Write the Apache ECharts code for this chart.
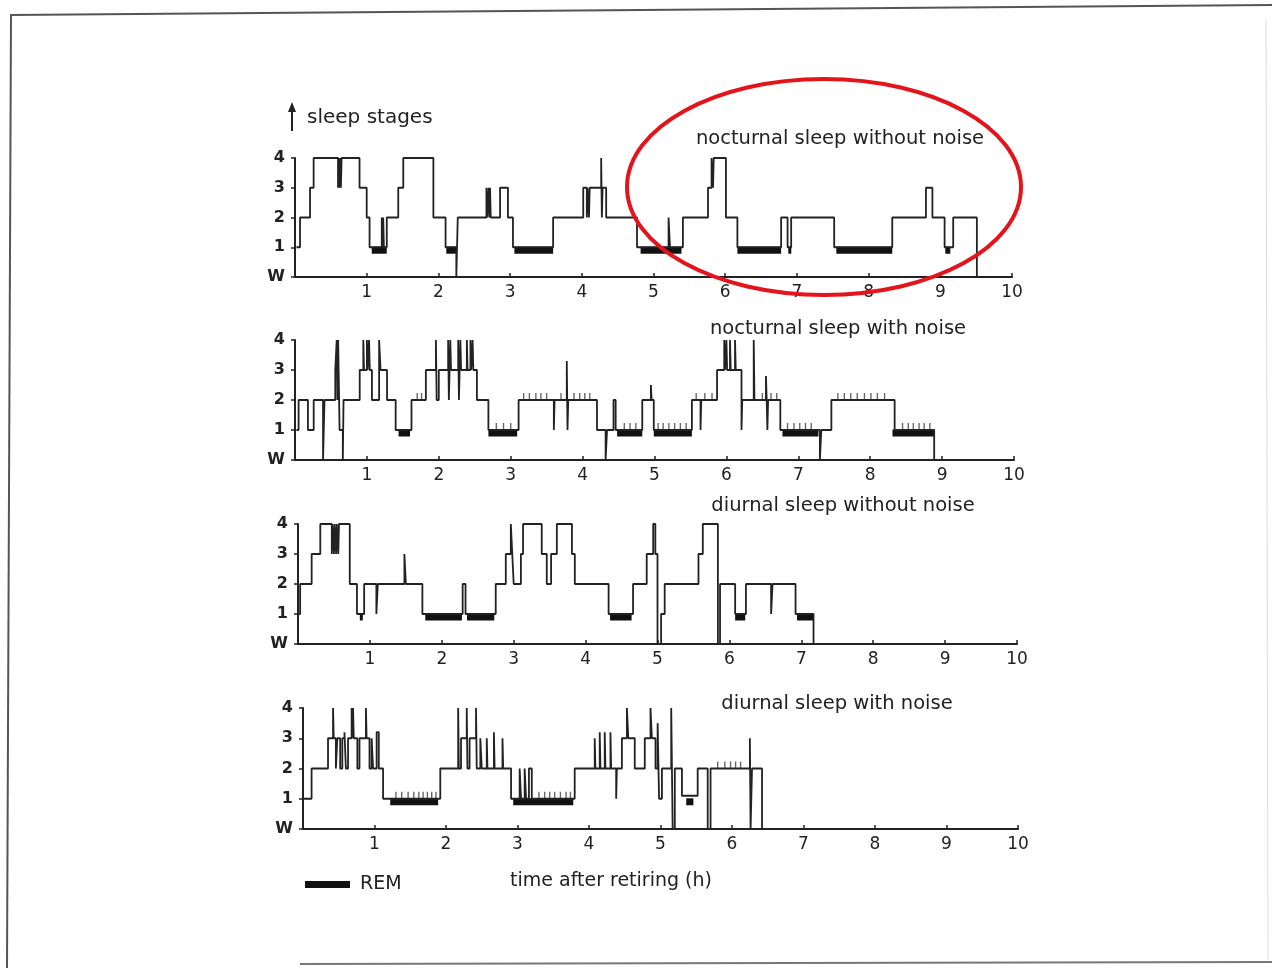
<!DOCTYPE html>
<html>
<head>
<meta charset="utf-8">
<script src="https://cdn.jsdelivr.net/npm/echarts@6/dist/echarts.min.js"></script>
<style>
html,body{margin:0;padding:0;background:#fff;}
#c{width:1272px;height:968px;}
</style>
</head>
<body>
<div id="c"></div>
<script>
// ---- data: [hours after retiring, sleep stage] (0 = W); each point starts a new stage ----
const nocturnalQuiet = [[0.02,1],[0.07,2],[0.21,3],[0.26,4],[0.60,3],[0.61,4],[0.62,3],[0.63,4],[0.64,3],[0.65,4],[0.90,3],[1.00,2],[1.04,1],[1.21,2],[1.22,1],[1.23,2],[1.24,1],[1.28,2],[1.44,3],[1.51,4],[1.93,2],[2.10,1],[2.25,0],[2.27,2],[2.67,3],[2.68,2],[2.70,3],[2.71,2],[2.72,3],[2.73,2],[2.86,3],[2.97,2],[3.04,1],[3.60,2],[4.02,3],[4.07,2],[4.08,3],[4.10,2],[4.11,3],[4.27,4],[4.28,2],[4.29,3],[4.34,2],[4.77,1],[5.21,2],[5.23,1],[5.41,2],[5.76,3],[5.81,4],[5.83,3],[5.84,4],[6.01,2],[6.17,1],[6.78,2],[6.87,1],[6.92,2],[7.52,1],[8.33,2],[8.80,3],[8.89,2],[9.06,1],[9.18,2],[9.51,0]];
const nocturnalNoise = [[0.02,1],[0.05,2],[0.18,1],[0.26,2],[0.39,0],[0.41,2],[0.56,3],[0.58,4],[0.59,2],[0.60,4],[0.62,1],[0.665,0],[0.675,2],[0.90,3],[0.95,4],[0.96,3],[1.00,4],[1.01,3],[1.03,4],[1.04,3],[1.07,2],[1.17,4],[1.19,3],[1.28,2],[1.40,1],[1.62,2],[1.82,3],[1.96,4],[1.97,2],[2.00,3],[2.13,4],[2.14,2],[2.16,4],[2.17,3],[2.27,4],[2.28,2],[2.30,4],[2.31,3],[2.39,4],[2.40,3],[2.44,4],[2.45,3],[2.47,4],[2.48,3],[2.53,2],[2.69,1],[3.11,2],[3.60,1],[3.61,2],[3.78,3.3],[3.79,1],[3.80,2],[4.20,1],[4.32,0],[4.34,1],[4.43,2],[4.46,1],[4.83,2],[4.95,2.5],[4.96,2],[4.99,1],[5.52,2],[5.64,1],[5.65,2],[5.87,3],[5.97,4],[5.98,3],[6.00,4],[6.01,3],[6.05,4],[6.06,3],[6.12,4],[6.13,3],[6.21,1],[6.22,2],[6.38,4],[6.39,2],[6.55,2.8],[6.56,2],[6.57,1],[6.58,2],[6.75,1],[7.30,0],[7.32,1],[7.46,2],[8.34,1],[8.89,0]];
const diurnalQuiet = [[0.0,1],[0.03,2],[0.19,3],[0.31,4],[0.47,3],[0.48,4],[0.50,3],[0.51,4],[0.53,3],[0.54,4],[0.56,3],[0.57,4],[0.72,2],[0.82,1],[0.92,2],[1.09,1],[1.11,2],[1.48,3],[1.50,2],[1.73,1],[2.29,2],[2.33,1],[2.75,2],[2.89,3],[2.96,4],[2.98,3],[3.00,2],[3.10,3],[3.13,4],[3.39,3],[3.46,2],[3.52,3],[3.60,4],[3.81,3],[3.85,2],[4.32,1],[4.66,2],[4.85,3],[4.94,4],[4.97,3],[5.00,0],[5.05,1],[5.10,2],[5.57,3],[5.63,4],[5.84,0],[5.87,2],[6.08,1],[6.23,2],[6.58,1],[6.60,2],[6.92,1],[7.17,0]];
const diurnalNoise = [[0.0,1],[0.12,2],[0.35,3],[0.42,4],[0.43,3],[0.46,2],[0.48,3],[0.52,2],[0.55,3],[0.58,3.2],[0.60,2],[0.63,3],[0.68,4],[0.69,3],[0.70,4],[0.71,3],[0.76,2],[0.79,3],[0.88,4],[0.89,3],[0.93,2],[0.96,3],[0.98,2],[1.03,3.2],[1.06,2],[1.12,1],[1.92,2],[2.17,4],[2.18,2],[2.21,3],[2.29,4],[2.30,2],[2.33,3],[2.42,4],[2.43,2],[2.48,3],[2.50,2],[2.57,3],[2.58,2],[2.67,3.2],[2.68,2],[2.79,3],[2.80,2],[2.91,1],[3.03,2],[3.05,1],[3.10,2],[3.12,1],[3.16,2],[3.20,1],[3.80,2],[4.08,3],[4.09,2],[4.15,3.2],[4.16,2],[4.22,3.2],[4.23,2],[4.30,3.2],[4.31,2],[4.38,1],[4.39,2],[4.46,3],[4.53,4],[4.55,3],[4.64,2],[4.78,3],[4.86,4],[4.88,3],[4.93,2],[4.96,3.5],[4.98,1],[5.02,2],[5.15,4],[5.17,0],[5.20,2],[5.30,1.1],[5.52,2],[5.66,0],[5.70,2],[6.25,3],[6.26,0],[6.28,2],[6.42,0]];

// REM periods [start h, end h]
const remNocturnalQuiet = [[1.07,1.28],[2.11,2.25],[3.06,3.60],[4.82,5.39],[6.17,6.78],[6.88,6.91],[7.55,8.33],[9.07,9.14]];
const remNocturnalNoise = [[1.44,1.60],[2.69,3.09],[4.48,4.83],[4.99,5.52],[6.78,7.28],[8.31,8.89]];
const remDiurnalQuiet = [[0.86,0.90],[1.77,2.28],[2.35,2.73],[4.34,4.64],[6.08,6.22],[6.94,7.17]];
const remDiurnalNoise = [[1.22,1.89],[2.94,3.78],[5.36,5.46]];

// short noise-event marks [h, stage]
const ticksNocturnalNoise = [[1.70,2],[1.76,2],[3.18,2],[3.26,2],[3.35,2],[3.42,2],[3.50,2],[3.70,2],[3.88,2],[3.96,2],[4.03,2],[4.10,2],[2.80,1],[2.90,1],[3.00,1],[4.58,1],[4.66,1],[4.74,1],[5.05,1],[5.12,1],[5.20,1],[5.28,1],[5.36,1],[5.44,1],[5.58,2],[5.70,2],[5.80,2],[6.50,2],[6.62,2],[6.70,2],[6.85,1],[6.94,1],[7.02,1],[7.10,1],[7.18,1],[7.55,2],[7.64,2],[7.73,2],[7.82,2],[7.92,2],[8.01,2],[8.10,2],[8.20,2],[8.45,1],[8.53,1],[8.60,1],[8.68,1],[8.75,1],[8.83,1]];
const ticksDiurnalNoise = [[1.30,1],[1.38,1],[1.47,1],[1.55,1],[1.62,1],[1.68,1],[1.74,1],[1.80,1],[1.86,1],[3.30,1],[3.38,1],[3.45,1],[3.52,1],[3.60,1],[3.68,1],[3.74,1],[5.80,2],[5.90,2],[5.98,2],[6.05,2],[6.12,2]];

const panelTitles = ['nocturnal sleep without noise','nocturnal sleep with noise','diurnal sleep without noise','diurnal sleep with noise'];
const stageLabels = ['W','1','2','3','4'];
const REM_LEVEL = 0.9;

// ---- layout ----
const panels = [
  {hyp: nocturnalQuiet, rem: remNocturnalQuiet, ticks: [], grid:{left:295, top:158, width:717, height:119}, title:[840,139]},
  {hyp: nocturnalNoise, rem: remNocturnalNoise, ticks: ticksNocturnalNoise, grid:{left:295, top:340, width:719, height:120}, title:[838,329]},
  {hyp: diurnalQuiet, rem: remDiurnalQuiet, ticks: [], grid:{left:298, top:524, width:719, height:120}, title:[843,506]},
  {hyp: diurnalNoise, rem: remDiurnalNoise, ticks: ticksDiurnalNoise, grid:{left:303, top:708, width:715, height:121}, title:[837,704]}
];

const INK = '#222';
const FONT = 'DejaVu Sans';

const grids = [], xAxes = [], yAxes = [], series = [], graphics = [];
panels.forEach((p, i) => {
  grids.push(Object.assign({containLabel:false}, p.grid));
  xAxes.push({
    type:'value', gridIndex:i, min:0, max:10, interval:1,
    axisLine:{show:true, onZero:false, lineStyle:{color:INK, width:2}},
    axisTick:{show:true, inside:true, length:4, lineStyle:{color:INK, width:1.5}},
    axisLabel:{show:true, showMinLabel:false, color:INK, fontFamily:FONT, fontSize:17, margin:7},
    splitLine:{show:false}
  });
  yAxes.push({
    type:'value', gridIndex:i, min:0, max:4, interval:1,
    axisLine:{show:true, lineStyle:{color:INK, width:2}},
    axisTick:{show:true, length:4, lineStyle:{color:INK, width:1.5}},
    axisLabel:{color:INK, fontFamily:FONT, fontSize:16, fontWeight:'bold', margin:10,
      formatter: v => stageLabels[v]},
    splitLine:{show:false}
  });
  series.push({
    type:'line', xAxisIndex:i, yAxisIndex:i, step:'end', data:p.hyp,
    symbol:'none', animation:false, silent:true,
    lineStyle:{color:INK, width:1.8}
  });
  series.push({
    type:'custom', xAxisIndex:i, yAxisIndex:i, data:p.rem, animation:false, silent:true,
    encode:{x:[0,1]},
    renderItem:(params, api) => {
      const a = api.coord([api.value(0), REM_LEVEL]);
      const b = api.coord([api.value(1), REM_LEVEL]);
      return {type:'rect', shape:{x:a[0], y:a[1]-3.5, width:Math.max(b[0]-a[0],3), height:7}, style:{fill:'#111'}};
    }
  });
  if (p.ticks.length) {
    series.push({
      type:'scatter', xAxisIndex:i, yAxisIndex:i, data:p.ticks, animation:false, silent:true,
      symbol:'rect', symbolSize:[1.4,7], symbolOffset:[0,-3.5],
      itemStyle:{color:'#444'}
    });
  }
  graphics.push({type:'text', x:p.title[0], y:p.title[1], silent:true,
    style:{text:panelTitles[i], fill:INK, font:'19.5px "DejaVu Sans"', textAlign:'center', textVerticalAlign:'middle'}});
});

// annotations: frame, axis caption, legend, red ellipse
graphics.push(
  {type:'line', shape:{x1:10, y1:15, x2:1272, y2:5}, style:{stroke:'#555', lineWidth:2}},
  {type:'line', shape:{x1:11, y1:15, x2:7, y2:968}, style:{stroke:'#555', lineWidth:2}},
  {type:'line', shape:{x1:300, y1:964, x2:1272, y2:962}, style:{stroke:'#777', lineWidth:2}},
  {type:'line', shape:{x1:1266, y1:20, x2:1268, y2:960}, style:{stroke:'#ddd', lineWidth:1}},
  {type:'line', shape:{x1:292, y1:131, x2:292, y2:108}, style:{stroke:INK, lineWidth:2}},
  {type:'polygon', shape:{points:[[288,112],[292,102],[296,112]]}, style:{fill:INK}},
  {type:'text', x:307, y:118, style:{text:'sleep stages', fill:INK, font:'20px "DejaVu Sans"', textVerticalAlign:'middle'}},
  {type:'rect', shape:{x:305, y:881, width:45, height:7}, style:{fill:'#111'}},
  {type:'text', x:360, y:884, style:{text:'REM', fill:INK, font:'19px "DejaVu Sans"', textVerticalAlign:'middle'}},
  {type:'text', x:611, y:881, style:{text:'time after retiring (h)', fill:INK, font:'19px "DejaVu Sans"', textAlign:'center', textVerticalAlign:'middle'}},
  {type:'ellipse', shape:{cx:824, cy:187, rx:197, ry:108}, style:{stroke:'#e3141b', fill:null, lineWidth:4}, z:100}
);

const chart = echarts.init(document.getElementById('c'), null, {renderer:'canvas'});
chart.setOption({
  backgroundColor:'#fff',
  animation:false,
  grid:grids, xAxis:xAxes, yAxis:yAxes, series:series,
  graphic:{elements:graphics}
});
</script>
</body>
</html>
